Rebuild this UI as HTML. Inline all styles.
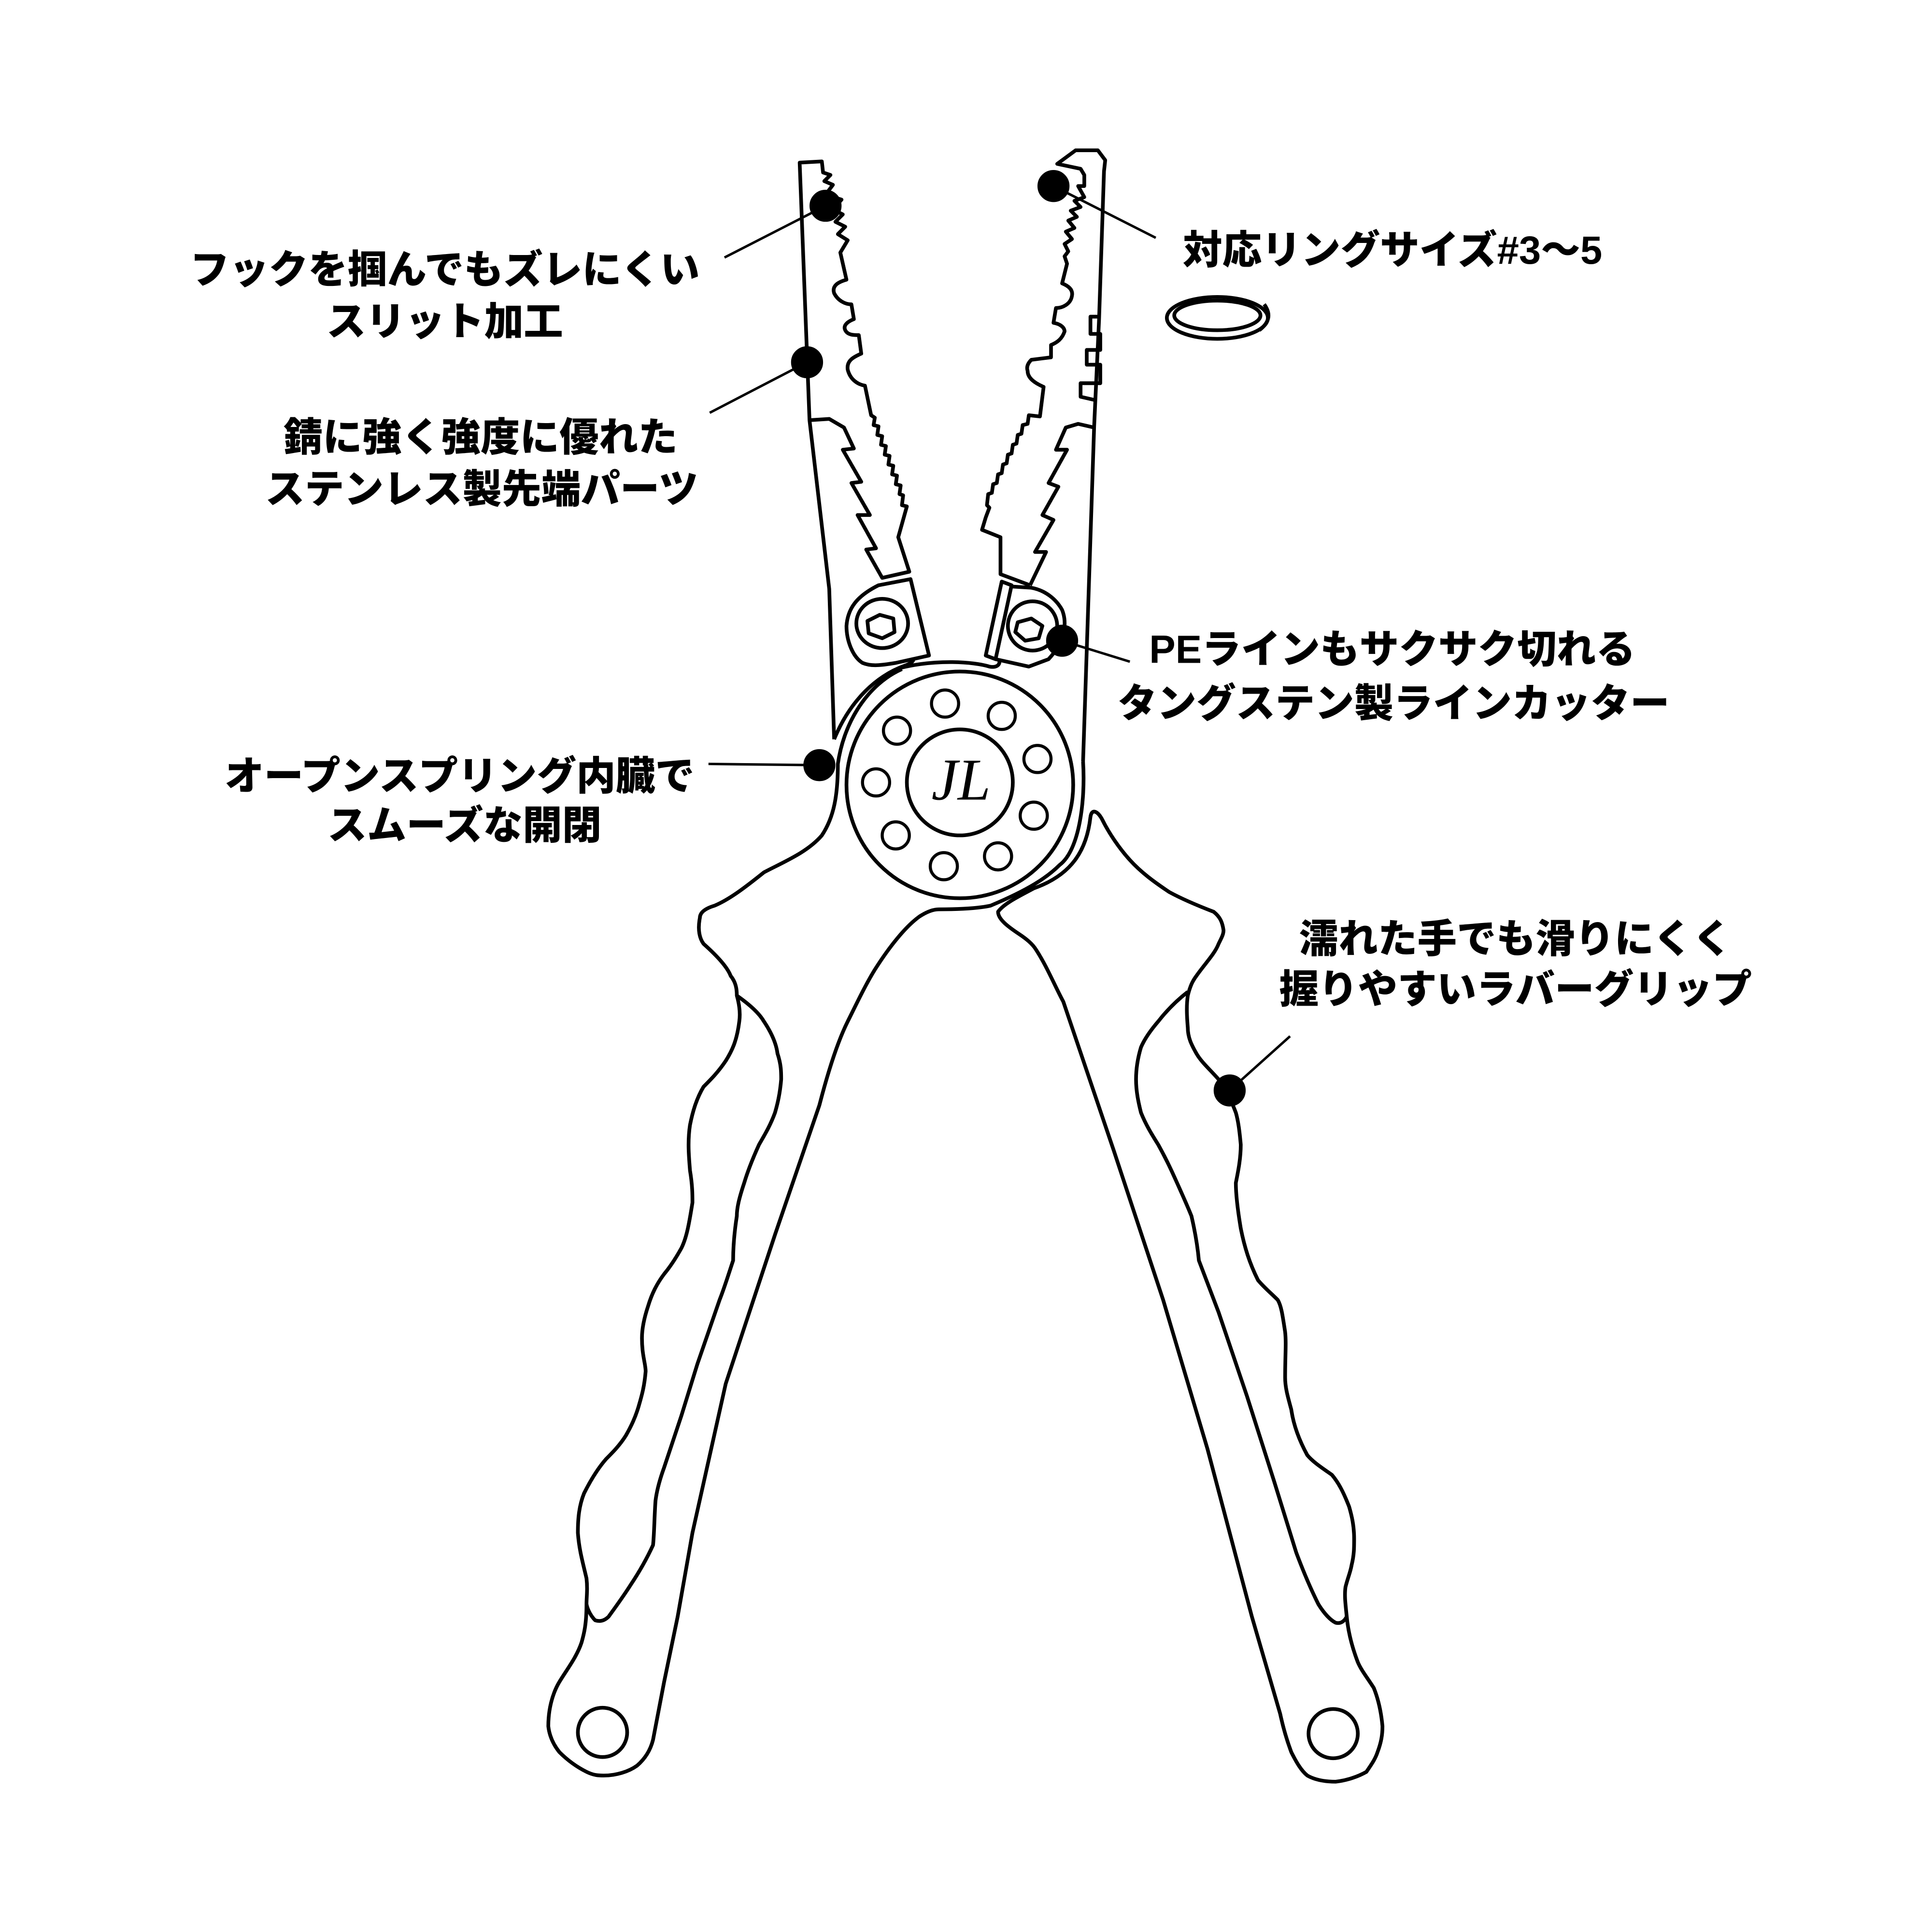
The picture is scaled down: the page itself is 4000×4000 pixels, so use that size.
<!DOCTYPE html>
<html><head><meta charset="utf-8"><style>
html,body{margin:0;padding:0;background:#fff}
svg{display:block}
text{font-family:"Liberation Sans","Noto Sans CJK JP",sans-serif;font-weight:900;font-size:32px;fill:#000}
</style></head><body>
<svg width="4000" height="4000" viewBox="0 0 1568 1568" xmlns="http://www.w3.org/2000/svg">
<g fill="none" stroke="#000" stroke-width="3" stroke-linejoin="round">
<!-- left jaw -->
<path d="M677,600 L673,478 L657,341 L649,132 L667,131 L668,140 L674,142 L669,147 L676,150 L670,158 L683,162 L676,170 L684,174 L678,180 L686,184 L680,190 L688,195 L682,205 L687,227 C680,229 675,232 677,238 C680,244 686,247 691,247 L693,259 C688,261 684,264 686,268 C688,272 693,272 697,272 L699,287 C692,290 687,293 688,300 C690,308 696,312 702,313 L707,337 L710,339 L709,345 L713,346 L712,353 L716,354 L715,361 L719,362 L718,369 L722,370 L721,377 L725,378 L724,385 L728,386 L727,393 L731,394 L730,401 L733,402 L732,410 L736,411 L729,436 L738,464 L716,469"/>
<path d="M657,341 L673,340 L685,347 L693,364 L684,365 L699,391 L691,392 L706,418 L696,418 L711,445 L703,446 L716,469 L738,464"/>
<path d="M713,475 L739,470 L754,532 L727,538 C715,540 707,541 700,538 C692,533 687,520 687,508 C688,494 695,484 713,475 Z"/>
<ellipse cx="716" cy="506" rx="21" ry="20"/>
<polygon points="704,504 714,499 725,502 726,513 716,518 705,514"/>
<!-- right jaw -->
<path d="M879,618 L880,588 L888,346 L892,259 L896,139 L897,130 L891,122 L873,122 L858,133 L877,137 L880,142 L880,151 L875,151 L880,160 L872,163 L877,168 L869,171 L874,176 L867,179 L872,185 L865,188 L870,194 L864,198 L867,204 L864,208 L866,214 L862,230 C867,232 871,235 870,240 C869,247 862,250 857,250 L855,262 C861,263 864,266 864,269 C862,275 858,278 853,280 L853,290 L837,292 C834,295 833,298 834,301 C834,307 840,311 847,314 L844,338 L835,337 L834,344 L830,345 L829,352 L826,353 L825,360 L822,361 L821,368 L818,369 L817,376 L814,377 L813,384 L810,385 L809,392 L806,393 L805,400 L802,401 L801,410 L803,412 L800,420 L797,430 L812,436 L812,466 L836,475"/>
<path d="M888,347 L875,344 L865,347 L857,365 L866,365 L851,392 L859,395 L846,418 L855,422 L840,448 L849,448 L836,475"/>
<path d="M892,257 L885,257 L885,271 L893,271 L893,284 L882,284 L882,296 L893,296 L893,311 L877,311 L877,322 L890,325"/>
<path d="M813,472 L821,475 L808,535 L800,532 Z"/>
<path d="M821,476 L837,477 C848,479 857,486 862,495 C866,505 865,520 851,535 L835,541 L808,535"/>
<ellipse cx="838" cy="508" rx="20" ry="20"/>
<polygon points="826,505 837,502 846,508 843,518 832,520 824,513"/>
<!-- pivot -->
<circle cx="779" cy="637" r="92"/>
<circle cx="779" cy="635" r="43"/>
<path d="M677,600 C690,568 712,548 735,540 C740,538 742,536 741,535"/>
<path d="M731,542 C760,535 790,537 803,541 C808,542 812,540 811,536"/>
<g stroke-width="2.5">
<circle cx="767" cy="571" r="11"/><circle cx="813" cy="581" r="11"/>
<circle cx="842" cy="616" r="11"/><circle cx="839" cy="662" r="11"/>
<circle cx="810" cy="695" r="11"/><circle cx="766" cy="703" r="11"/>
<circle cx="727" cy="678" r="11"/><circle cx="711" cy="635" r="11"/>
<circle cx="728" cy="593" r="11"/>
</g>
<!-- left handle -->
<path d="M732,543 C705,555 685,585 680,620 C680,645 677,663 667,678 C655,692 635,700 620,708 C605,720 592,730 580,735 C570,738 568,742 568,745 C566,755 568,762 571,766 C580,774 590,784 593,792 C598,798 598,805 598,808 C600,815 601,822 600,829 C598,845 594,853 589,861 C583,870 577,876 571,882 C565,892 562,903 560,913 C558,926 559,938 560,950 C562,962 562,970 562,976 C559,995 557,1005 553,1013 C548,1022 544,1028 539,1034 C533,1042 529,1050 526,1060 C522,1072 521,1080 521,1086 C521,1100 524,1107 524,1113 C523,1125 521,1132 519,1139 C516,1150 512,1158 508,1165 C503,1173 497,1179 492,1184 C485,1192 479,1202 474,1212 C470,1222 469,1232 469,1244 C470,1258 473,1268 476,1281 C477,1290 476,1296 476,1302 C476,1318 474,1326 472,1333 C468,1345 460,1355 454,1365 C448,1375 445,1388 445,1401 C446,1410 450,1417 454,1422 C462,1430 470,1435 476,1438 C482,1441 486,1441 490,1441 C500,1441 510,1438 517,1433 C524,1427 528,1420 530,1412 L539,1365 L550,1312 L562,1244 L589,1123 L629,1002 L665,897 C672,870 680,845 688,829 C695,815 702,800 710,787 C722,768 735,752 746,744 C752,740 757,738 762,738 C780,738 795,737 804,735 C835,722 850,712 860,702 C876,690 881,650 879,618"/>
<path d="M598,808 C608,815 616,822 620,829 C626,838 630,847 631,855 C634,864 634,870 634,876 C633,888 631,896 629,903 C625,914 620,922 616,929 C611,940 607,950 604,960 C600,972 598,980 598,987 C596,1000 595,1012 595,1023 C591,1035 588,1045 584,1055 L566,1107 L553,1149 L539,1191 C535,1202 533,1210 532,1218 C531,1232 531,1245 530,1254 C524,1267 518,1277 512,1286 C505,1297 499,1305 494,1312 C490,1316 486,1316 483,1315 C480,1312 477,1307 476,1302"/>
<circle cx="489" cy="1406" r="20"/>
<!-- right handle -->
<path d="M885,663 C882,690 870,710 839,721 C828,727 815,733 810,740 C810,746 818,752 827,758 C833,762 838,766 841,771 C850,785 856,800 863,813 L904,934 L944,1055 L980,1176 L1016,1312 L1039,1391 C1042,1405 1045,1414 1048,1422 C1052,1430 1056,1437 1061,1441 C1068,1445 1076,1446 1084,1446 C1093,1445 1102,1442 1109,1438 C1113,1432 1116,1428 1118,1422 C1121,1414 1122,1408 1122,1401 C1121,1390 1119,1380 1115,1370 C1110,1362 1105,1356 1102,1349 C1097,1336 1094,1323 1093,1312 C1092,1302 1091,1295 1092,1288 C1094,1280 1096,1276 1097,1270 C1099,1262 1099,1256 1099,1249 C1099,1238 1097,1230 1095,1223 C1090,1210 1086,1203 1081,1197 C1074,1192 1066,1187 1061,1181 C1055,1170 1050,1158 1048,1144 C1045,1133 1043,1126 1043,1118 C1043,1100 1044,1090 1043,1081 C1041,1068 1040,1060 1037,1055 C1031,1049 1026,1045 1021,1039 C1014,1025 1010,1012 1007,997 C1005,985 1003,970 1003,960 C1005,950 1007,940 1007,929 C1006,918 1005,910 1003,903 C998,890 994,882 989,876 C982,868 975,862 971,855 C967,848 964,842 964,834 C963,822 963,815 964,808 C966,800 968,796 971,792 C978,782 986,774 989,766 C992,760 993,758 993,755 C992,748 990,744 985,740 C972,735 960,730 949,724 C937,716 926,708 917,698 C908,688 900,676 895,666 C891,658 886,656 885,663"/>
<path d="M964,805 C955,812 947,820 940,829 C934,836 929,843 926,850 C923,860 922,868 922,876 C922,886 924,895 926,903 C930,913 935,921 940,929 C945,938 949,946 953,955 C958,966 963,977 967,987 C970,1000 972,1012 973,1023 L989,1065 L1012,1133 L1034,1202 L1052,1260 C1058,1276 1064,1290 1070,1302 C1075,1310 1080,1315 1084,1317 C1088,1318 1091,1316 1093,1312"/>
<circle cx="1082" cy="1407" r="20"/>
<!-- ring -->
<ellipse cx="988" cy="258" rx="41" ry="17"/>
<ellipse cx="988" cy="256" rx="35" ry="12"/>
<path d="M1022,268 C1030,262 1032,255 1026,247"/>
</g>
<!-- callouts -->
<g stroke="#000" stroke-width="2" fill="#000">
<line x1="588" y1="209" x2="670" y2="167"/><circle cx="670" cy="167" r="12"/>
<line x1="576" y1="335" x2="655" y2="294"/><circle cx="655" cy="294" r="12"/>
<line x1="938" y1="193" x2="855" y2="151"/><circle cx="855" cy="151" r="12"/>
<line x1="917" y1="537" x2="862" y2="520"/><circle cx="862" cy="520" r="12"/>
<line x1="575" y1="620" x2="665" y2="621"/><circle cx="665" cy="621" r="12"/>
<line x1="1047" y1="841" x2="998" y2="885"/><circle cx="998" cy="885" r="12"/>
</g>
<text x="780" y="649" text-anchor="middle" style="font-family:'Liberation Serif',serif;font-weight:400;font-style:italic;font-size:48px">JL</text>
<g text-anchor="middle">
<text x="361" y="230">フックを掴んでもズレにくい</text>
<text x="361" y="272">スリット加工</text>
<text x="390" y="366">錆に強く強度に優れた</text>
<text x="391" y="408">ステンレス製先端パーツ</text>
<text x="373" y="641">オープンスプリング内臓で</text>
<text x="377" y="681">スムーズな開閉</text>
<text x="1130" y="538">PEラインもサクサク切れる</text>
<text x="1131" y="582">タングステン製ラインカッター</text>
<text x="1230" y="773">濡れた手でも滑りにくく</text>
<text x="1230" y="814">握りやすいラバーグリップ</text>
</g>
<text x="960" y="214">対応リングサイズ#3〜5</text>
</svg>
</body></html>
